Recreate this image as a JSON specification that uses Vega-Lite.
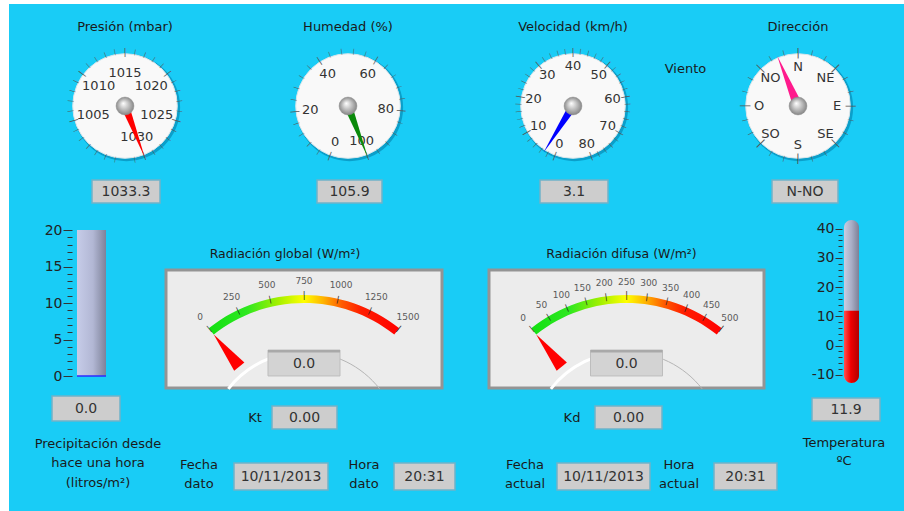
{
"$schema": "https://vega.github.io/schema/vega-lite/v6.json",
"background": "#19ccf6",
"padding": 0,
"autosize": {"type": "pad"},
"data": {"values": [{"presion": 1033.3, "humedad": 105.9, "velocidad": 3.1, "direccion": 337.5, "direccionTxt": "N-NO", "precipitacion": 0.0, "radGlobal": 0.0, "kt": 0.0, "radDifusa": 0.0, "kd": 0.0, "temperatura": 11.9, "fechaDato": "10/11/2013", "horaDato": "20:31", "fechaActual": "10/11/2013", "horaActual": "20:31"}]},
"datasets": {
"pTicks": [{"v":999},{"v":1000},{"v":1001},{"v":1002},{"v":1003},{"v":1004},{"v":1006},{"v":1007},{"v":1008},{"v":1009},{"v":1011},{"v":1012},{"v":1013},{"v":1014},{"v":1016},{"v":1017},{"v":1018},{"v":1019},{"v":1021},{"v":1022},{"v":1023},{"v":1024},{"v":1026},{"v":1027},{"v":1028},{"v":1029},{"v":1031}],
"pLab": [{"v":1005},{"v":1010},{"v":1015},{"v":1020},{"v":1025},{"v":1030}],
"hTicks": [{"v":4},{"v":8},{"v":12},{"v":16},{"v":24},{"v":28},{"v":32},{"v":36},{"v":44},{"v":48},{"v":52},{"v":56},{"v":64},{"v":68},{"v":72},{"v":76},{"v":84},{"v":88},{"v":92},{"v":96}],
"hLab": [{"v":0},{"v":20},{"v":40},{"v":60},{"v":80},{"v":100}],
"vTicks": [{"v":2},{"v":4},{"v":6},{"v":8},{"v":12},{"v":14},{"v":16},{"v":18},{"v":22},{"v":24},{"v":26},{"v":28},{"v":32},{"v":34},{"v":36},{"v":38},{"v":42},{"v":44},{"v":46},{"v":48},{"v":52},{"v":54},{"v":56},{"v":58},{"v":62},{"v":64},{"v":66},{"v":68},{"v":72},{"v":74},{"v":76},{"v":78}],
"vLab": [{"v":0},{"v":10},{"v":20},{"v":30},{"v":40},{"v":50},{"v":60},{"v":70},{"v":80}],
"dTicks": [{"v":15},{"v":30},{"v":60},{"v":75},{"v":105},{"v":120},{"v":150},{"v":165},{"v":195},{"v":210},{"v":240},{"v":255},{"v":285},{"v":300},{"v":330},{"v":345}],
"dLab": [{"v":0,"t":"N"},{"v":45,"t":"NE"},{"v":90,"t":"E"},{"v":135,"t":"SE"},{"v":180,"t":"S"},{"v":225,"t":"SO"},{"v":270,"t":"O"},{"v":315,"t":"NO"}],
"gLab": [{"v":0},{"v":250},{"v":500},{"v":750},{"v":1000},{"v":1250},{"v":1500}],
"fLab": [{"v":0},{"v":50},{"v":100},{"v":150},{"v":200},{"v":250},{"v":300},{"v":350},{"v":400},{"v":450},{"v":500}]
},
"spacing": 0,
"hconcat": [
{"width": 9, "height": 511, "view": {"fill": "#ffffff", "stroke": null}, "mark": {"type": "point", "opacity": 0, "size": 0}},
{"spacing": 17, "vconcat": [
{"width": 895, "height": 4, "view": {"fill": "#ffffff", "stroke": null}, "mark": {"type": "point", "opacity": 0, "size": 0}},
{"spacing": 0, "vconcat": [
{"spacing": 0, "hconcat": [
{"width": 54, "height": 1, "mark": {"type": "point", "opacity": 0, "size": 0}},
{"spacing": 11, "vconcat": [
{"width": 124, "height": 124, "title": "Presión (mbar)",
 "resolve": {"scale": {"theta": "independent", "angle": "independent"}},
 "layer": [
  {"mark": {"type": "point", "shape": "circle", "size": 11499, "filled": true, "opacity": 1, "color": "#0b9fca", "xOffset": 1.5, "yOffset": 1.5}},
  {"mark": {"type": "point", "shape": "circle", "size": 10936, "filled": true, "opacity": 1, "fill": "#f9f9f9", "stroke": "#d5e6ec", "strokeWidth": 1}},
  {"data": {"name": "pTicks"}, "mark": {"type": "text", "radius": 55, "fontSize": 6, "color": "#555555"}, "encoding": {"text": {"value": "|"}, "theta": {"field": "v", "type": "quantitative", "scale": {"domain": [1005, 1030], "range": [-1.85, 2.775], "nice": false, "zero": false}}, "angle": {"field": "v", "type": "quantitative", "scale": {"domain": [1005, 1030], "range": [-106, 159], "nice": false, "zero": false}}}},
  {"data": {"name": "pLab"}, "mark": {"type": "text", "radius": 54, "fontSize": 9, "color": "#555555"}, "encoding": {"text": {"value": "|"}, "theta": {"field": "v", "type": "quantitative", "scale": {"domain": [1005, 1030], "range": [-1.85, 2.775], "nice": false, "zero": false}}, "angle": {"field": "v", "type": "quantitative", "scale": {"domain": [1005, 1030], "range": [-106, 159], "nice": false, "zero": false}}}},
  {"data": {"name": "pLab"}, "mark": {"type": "text", "radius": 33, "fontSize": 13, "color": "#333333"}, "encoding": {"text": {"field": "v", "type": "quantitative", "format": "d"}, "theta": {"field": "v", "type": "quantitative", "scale": {"domain": [1005, 1030], "range": [-1.85, 2.775], "nice": false, "zero": false}}}},
  {"mark": {"type": "point", "shape": "M0,-1 L0.075,0 L0,0.12 L-0.075,0 Z", "size": 12100, "filled": true, "opacity": 1, "color": "#ff0000"}, "encoding": {"angle": {"field": "presion", "type": "quantitative", "scale": {"domain": [1005, 1030], "range": [-106, 159], "clamp": true, "nice": false, "zero": false}}}},
  {"mark": {"type": "point", "shape": "circle", "size": 320, "filled": true, "opacity": 1, "fill": {"gradient": "radial", "x1": 0.4, "y1": 0.35, "r1": 0, "x2": 0.5, "y2": 0.5, "r2": 0.55, "stops": [{"offset": 0, "color": "#ffffff"}, {"offset": 1, "color": "#7d7d7d"}]}, "stroke": "#8c8c8c", "strokeWidth": 0.5}}
 ]},
{"spacing": 0, "bounds": "flush", "hconcat": [
 {"width": 29, "height": 1, "mark": {"type": "point", "opacity": 0, "size": 0}},
 {"width": 68, "height": 23, "view": {"fill": "#cdcdcd", "stroke": "#6fb3c9", "strokeWidth": 1.5}, "mark": {"type": "text", "fontSize": 14, "color": "#333333"}, "encoding": {"text": {"field": "presion", "type": "quantitative", "format": ".1f"}}},
 {"width": 27, "height": 1, "mark": {"type": "point", "opacity": 0, "size": 0}}
]}
]},
{"width": 99, "height": 1, "mark": {"type": "point", "opacity": 0, "size": 0}},
{"spacing": 11, "vconcat": [
{"width": 124, "height": 124, "title": "Humedad (%)",
 "resolve": {"scale": {"theta": "independent", "angle": "independent"}},
 "layer": [
  {"mark": {"type": "point", "shape": "circle", "size": 11499, "filled": true, "opacity": 1, "color": "#0b9fca", "xOffset": 1.5, "yOffset": 1.5}},
  {"mark": {"type": "point", "shape": "circle", "size": 10936, "filled": true, "opacity": 1, "fill": "#f9f9f9", "stroke": "#d5e6ec", "strokeWidth": 1}},
  {"data": {"name": "hTicks"}, "mark": {"type": "text", "radius": 55, "fontSize": 6, "color": "#555555"}, "encoding": {"text": {"value": "|"}, "theta": {"field": "v", "type": "quantitative", "scale": {"domain": [0, 100], "range": [-2.793, 2.775], "nice": false, "zero": false}}, "angle": {"field": "v", "type": "quantitative", "scale": {"domain": [0, 100], "range": [-160, 159], "nice": false, "zero": false}}}},
  {"data": {"name": "hLab"}, "mark": {"type": "text", "radius": 54, "fontSize": 9, "color": "#555555"}, "encoding": {"text": {"value": "|"}, "theta": {"field": "v", "type": "quantitative", "scale": {"domain": [0, 100], "range": [-2.793, 2.775], "nice": false, "zero": false}}, "angle": {"field": "v", "type": "quantitative", "scale": {"domain": [0, 100], "range": [-160, 159], "nice": false, "zero": false}}}},
  {"data": {"name": "hLab"}, "mark": {"type": "text", "radius": 38, "fontSize": 13, "color": "#333333"}, "encoding": {"text": {"field": "v", "type": "quantitative", "format": "d"}, "theta": {"field": "v", "type": "quantitative", "scale": {"domain": [0, 100], "range": [-2.793, 2.775], "nice": false, "zero": false}}}},
  {"mark": {"type": "point", "shape": "M0,-1 L0.075,0 L0,0.12 L-0.075,0 Z", "size": 12100, "filled": true, "opacity": 1, "color": "#0a8a0a"}, "encoding": {"angle": {"field": "humedad", "type": "quantitative", "scale": {"domain": [0, 100], "range": [-160, 159], "clamp": true, "nice": false, "zero": false}}}},
  {"mark": {"type": "point", "shape": "circle", "size": 320, "filled": true, "opacity": 1, "fill": {"gradient": "radial", "x1": 0.4, "y1": 0.35, "r1": 0, "x2": 0.5, "y2": 0.5, "r2": 0.55, "stops": [{"offset": 0, "color": "#ffffff"}, {"offset": 1, "color": "#7d7d7d"}]}, "stroke": "#8c8c8c", "strokeWidth": 0.5}}
 ]},
{"spacing": 0, "bounds": "flush", "hconcat": [
 {"width": 31, "height": 1, "mark": {"type": "point", "opacity": 0, "size": 0}},
 {"width": 65, "height": 23, "view": {"fill": "#cdcdcd", "stroke": "#6fb3c9", "strokeWidth": 1.5}, "mark": {"type": "text", "fontSize": 14, "color": "#333333"}, "encoding": {"text": {"field": "humedad", "type": "quantitative", "format": ".1f"}}},
 {"width": 28, "height": 1, "mark": {"type": "point", "opacity": 0, "size": 0}}
]}
]},
{"width": 101, "height": 1, "mark": {"type": "point", "opacity": 0, "size": 0}},
{"spacing": 11, "vconcat": [
{"width": 124, "height": 124, "title": "Velocidad (km/h)",
 "resolve": {"scale": {"theta": "independent", "angle": "independent"}},
 "layer": [
  {"mark": {"type": "point", "shape": "circle", "size": 11499, "filled": true, "opacity": 1, "color": "#0b9fca", "xOffset": 1.5, "yOffset": 1.5}},
  {"mark": {"type": "point", "shape": "circle", "size": 10936, "filled": true, "opacity": 1, "fill": "#f9f9f9", "stroke": "#d5e6ec", "strokeWidth": 1}},
  {"data": {"name": "vTicks"}, "mark": {"type": "text", "radius": 55, "fontSize": 6, "color": "#555555"}, "encoding": {"text": {"value": "|"}, "theta": {"field": "v", "type": "quantitative", "scale": {"domain": [0, 80], "range": [-2.793, 2.793], "nice": false, "zero": false}}, "angle": {"field": "v", "type": "quantitative", "scale": {"domain": [0, 80], "range": [-160, 160], "nice": false, "zero": false}}}},
  {"data": {"name": "vLab"}, "mark": {"type": "text", "radius": 54, "fontSize": 9, "color": "#555555"}, "encoding": {"text": {"value": "|"}, "theta": {"field": "v", "type": "quantitative", "scale": {"domain": [0, 80], "range": [-2.793, 2.793], "nice": false, "zero": false}}, "angle": {"field": "v", "type": "quantitative", "scale": {"domain": [0, 80], "range": [-160, 160], "nice": false, "zero": false}}}},
  {"data": {"name": "vLab"}, "mark": {"type": "text", "radius": 40, "fontSize": 13, "color": "#333333"}, "encoding": {"text": {"field": "v", "type": "quantitative", "format": "d"}, "theta": {"field": "v", "type": "quantitative", "scale": {"domain": [0, 80], "range": [-2.793, 2.793], "nice": false, "zero": false}}}},
  {"mark": {"type": "point", "shape": "M0,-1 L0.075,0 L0,0.12 L-0.075,0 Z", "size": 12100, "filled": true, "opacity": 1, "color": "#0000ff"}, "encoding": {"angle": {"field": "velocidad", "type": "quantitative", "scale": {"domain": [0, 80], "range": [-160, 160], "clamp": true, "nice": false, "zero": false}}}},
  {"mark": {"type": "point", "shape": "circle", "size": 320, "filled": true, "opacity": 1, "fill": {"gradient": "radial", "x1": 0.4, "y1": 0.35, "r1": 0, "x2": 0.5, "y2": 0.5, "r2": 0.55, "stops": [{"offset": 0, "color": "#ffffff"}, {"offset": 1, "color": "#7d7d7d"}]}, "stroke": "#8c8c8c", "strokeWidth": 0.5}}
 ]},
{"spacing": 0, "bounds": "flush", "hconcat": [
 {"width": 29, "height": 1, "mark": {"type": "point", "opacity": 0, "size": 0}},
 {"width": 68, "height": 23, "view": {"fill": "#cdcdcd", "stroke": "#6fb3c9", "strokeWidth": 1.5}, "mark": {"type": "text", "fontSize": 14, "color": "#333333"}, "encoding": {"text": {"field": "velocidad", "type": "quantitative", "format": ".1f"}}},
 {"width": 27, "height": 1, "mark": {"type": "point", "opacity": 0, "size": 0}}
]}
]},
{"width": 101, "height": 50, "mark": {"type": "text", "fontSize": 13, "color": "#1a1a1a"}, "encoding": {"text": {"value": "Viento"}}},
{"spacing": 11, "vconcat": [
{"width": 124, "height": 124, "title": "Dirección",
 "resolve": {"scale": {"theta": "independent", "angle": "independent"}},
 "layer": [
  {"mark": {"type": "point", "shape": "circle", "size": 11499, "filled": true, "opacity": 1, "color": "#0b9fca", "xOffset": 1.5, "yOffset": 1.5}},
  {"mark": {"type": "point", "shape": "circle", "size": 10936, "filled": true, "opacity": 1, "fill": "#f9f9f9", "stroke": "#d5e6ec", "strokeWidth": 1}},
  {"data": {"name": "dTicks"}, "mark": {"type": "text", "radius": 55, "fontSize": 6, "color": "#555555"}, "encoding": {"text": {"value": "|"}, "theta": {"field": "v", "type": "quantitative", "scale": {"domain": [0, 360], "range": [0, 6.2832], "nice": false, "zero": false}}, "angle": {"field": "v", "type": "quantitative", "scale": {"domain": [0, 360], "range": [0, 360], "nice": false, "zero": false}}}},
  {"data": {"name": "dLab"}, "mark": {"type": "text", "radius": 53, "fontSize": 11, "color": "#555555"}, "encoding": {"text": {"value": "|"}, "theta": {"field": "v", "type": "quantitative", "scale": {"domain": [0, 360], "range": [0, 6.2832], "nice": false, "zero": false}}, "angle": {"field": "v", "type": "quantitative", "scale": {"domain": [0, 360], "range": [0, 360], "nice": false, "zero": false}}}},
  {"data": {"name": "dLab"}, "mark": {"type": "text", "radius": 39, "fontSize": 13, "color": "#333333"}, "encoding": {"text": {"field": "t", "type": "nominal"}, "theta": {"field": "v", "type": "quantitative", "scale": {"domain": [0, 360], "range": [0, 6.2832], "nice": false, "zero": false}}}},
  {"mark": {"type": "point", "shape": "M0,-1 L0.09,0 L0,0.12 L-0.09,0 Z", "size": 11664, "filled": true, "opacity": 1, "color": "#ff1a8c"}, "encoding": {"angle": {"field": "direccion", "type": "quantitative", "scale": {"domain": [0, 360], "range": [0, 360], "nice": false, "zero": false}}}},
  {"mark": {"type": "point", "shape": "circle", "size": 320, "filled": true, "opacity": 1, "fill": {"gradient": "radial", "x1": 0.4, "y1": 0.35, "r1": 0, "x2": 0.5, "y2": 0.5, "r2": 0.55, "stops": [{"offset": 0, "color": "#ffffff"}, {"offset": 1, "color": "#7d7d7d"}]}, "stroke": "#8c8c8c", "strokeWidth": 0.5}}
 ]},
{"spacing": 0, "bounds": "flush", "hconcat": [
 {"width": 36, "height": 1, "mark": {"type": "point", "opacity": 0, "size": 0}},
 {"width": 66, "height": 23, "view": {"fill": "#cdcdcd", "stroke": "#6fb3c9", "strokeWidth": 1.5}, "mark": {"type": "text", "fontSize": 14, "color": "#333333"}, "encoding": {"text": {"field": "direccionTxt", "type": "nominal"}}},
 {"width": 22, "height": 1, "mark": {"type": "point", "opacity": 0, "size": 0}}
]}
]}
]},
{"spacing": 0, "hconcat": [
{"spacing": 0, "vconcat": [
 {"width": 155, "height": 19, "mark": {"type": "point", "opacity": 0, "size": 0}},
 {"spacing": 0, "bounds": "flush", "hconcat": [
  {"width": 68, "height": 1, "mark": {"type": "point", "opacity": 0, "size": 0}},
  {"width": 29, "height": 146,
   "layer": [
    {"mark": {"type": "rect", "fill": {"gradient": "linear", "x1": 0, "y1": 0, "x2": 1, "y2": 0, "stops": [{"offset": 0, "color": "#c6cce8"}, {"offset": 0.55, "color": "#b2b7d4"}, {"offset": 1, "color": "#7e8299"}]}},
     "encoding": {"x": {"datum": 0, "type": "quantitative", "scale": {"domain": [0, 1], "nice": false}, "axis": null}, "x2": {"datum": 1},
      "y": {"datum": 0, "type": "quantitative", "scale": {"domain": [0, 20], "nice": false, "zero": false}, "axis": {"values": [0,1,2,3,4,5,6,7,8,9,10,11,12,13,14,15,16,17,18,19,20], "tickCount": 100, "labelOverlap": false, "tickSize": {"condition": {"test": "datum.value % 5 === 0", "value": 9}, "value": 5}, "labelExpr": "datum.value % 5 === 0 ? '' + datum.value : ''", "offset": 5, "labelPadding": 1, "title": null}}, "y2": {"datum": 20}}},
    {"mark": {"type": "rule", "color": "#2b2bff", "strokeWidth": 1.5}, "encoding": {"x": {"datum": 0, "type": "quantitative", "axis": null}, "x2": {"datum": 1}, "y": {"field": "precipitacion", "type": "quantitative"}}}
   ]},
  {"width": 58, "height": 1, "mark": {"type": "point", "opacity": 0, "size": 0}}
 ]},
 {"width": 1, "height": 12, "mark": {"type": "point", "opacity": 0, "size": 0}},
 {"spacing": 0, "bounds": "flush", "hconcat": [
  {"width": 43, "height": 1, "mark": {"type": "point", "opacity": 0, "size": 0}},
  {"width": 68, "height": 25, "view": {"fill": "#cdcdcd", "stroke": "#6fb3c9", "strokeWidth": 1.5}, "mark": {"type": "text", "fontSize": 14, "color": "#333333"}, "encoding": {"text": {"field": "precipitacion", "type": "quantitative", "format": ".1f"}}},
  {"width": 44, "height": 1, "mark": {"type": "point", "opacity": 0, "size": 0}}
 ]},
 {"spacing": 0, "bounds": "flush", "hconcat": [
  {"width": 23, "height": 1, "mark": {"type": "point", "opacity": 0, "size": 0}},
  {"width": 132, "height": 43, "mark": {"type": "text", "fontSize": 13, "lineHeight": 19.5, "color": "#1a1a1a"}, "encoding": {"text": {"value": ["Precipitación desde", "hace una hora", "(litros/m²)"]}}}
 ]},
 {"width": 1, "height": 50, "mark": {"type": "point", "opacity": 0, "size": 0}}
]},
{"spacing": 0, "vconcat": [
 {"width": 636, "height": 42, "mark": {"type": "point", "opacity": 0, "size": 0}},
 {"spacing": 0, "bounds": "flush", "hconcat": [
  {"width": 276, "height": 118, "title": {"text": "Radiación global (W/m²)", "dx": -19, "fontSize": 12.5},
   "view": {"fill": "#ececec", "stroke": "#949494", "strokeWidth": 3},
   "resolve": {"scale": {"theta": "independent", "angle": "independent"}},
   "layer": [
    {"mark": {"type": "point", "shape": "M-0.6225,-0.7826 A1,1 0 0,1 0.6225,-0.7826 L0.5899,-0.7417 A0.9477,0.9477 0 0,0 -0.5899,-0.7417 Z", "size": 93636, "filled": true, "opacity": 1, "y": 178, "fill": {"gradient": "linear", "x1": 0, "y1": 0, "x2": 1, "y2": 0, "stops": [{"offset": 0, "color": "#12e012"}, {"offset": 0.2, "color": "#2ee820"}, {"offset": 0.36, "color": "#a0f000"}, {"offset": 0.5, "color": "#ffff00"}, {"offset": 0.6, "color": "#ffb400"}, {"offset": 0.7, "color": "#ff5a00"}, {"offset": 0.8, "color": "#ff1e00"}, {"offset": 1, "color": "#ff0000"}]}}},
    {"data": {"name": "gLab"}, "mark": {"type": "text", "radius": 152, "fontSize": 8, "color": "#222222", "y": 178}, "encoding": {"text": {"value": "|"}, "theta": {"field": "v", "type": "quantitative", "scale": {"domain": [0, 1500], "range": [-0.672, 0.672], "nice": false, "zero": false}}, "angle": {"field": "v", "type": "quantitative", "scale": {"domain": [0, 1500], "range": [-38.5, 38.5], "nice": false, "zero": false}}}},
    {"data": {"name": "gLab"}, "mark": {"type": "text", "radius": 167, "fontSize": 9, "color": "#5a5a5a", "y": 178}, "encoding": {"text": {"field": "v", "type": "quantitative", "format": "d"}, "theta": {"field": "v", "type": "quantitative", "scale": {"domain": [0, 1500], "range": [-0.672, 0.672], "nice": false, "zero": false}}}},
    {"mark": {"type": "point", "shape": "M-0.788,-0.616 A1,1 0 0,1 0,-1", "size": 36864, "filled": false, "opacity": 1, "stroke": "#ffffff", "strokeWidth": 3, "y": 178}},
    {"mark": {"type": "point", "shape": "M0,-1 A1,1 0 0,1 0.788,-0.616", "size": 36864, "filled": false, "opacity": 1, "stroke": "#b5b5b5", "strokeWidth": 1, "y": 178}},
    {"mark": {"type": "point", "shape": "M0,-1 L0.045,-0.717 L-0.045,-0.717 Z", "size": 84100, "filled": true, "opacity": 1, "color": "#ff0000", "y": 178}, "encoding": {"angle": {"field": "radGlobal", "type": "quantitative", "scale": {"domain": [0, 1500], "range": [-38.5, 38.5], "clamp": true, "nice": false, "zero": false}}}},
    {"mark": {"type": "point", "shape": "M-1,-0.36 L1,-0.36 L1,0.36 L-1,0.36 Z", "size": 5184, "filled": true, "opacity": 1, "fill": "#d3d3d3", "stroke": "#bdbdbd", "strokeWidth": 1, "y": 93}},
    {"mark": {"type": "point", "shape": "M-1,-0.36 L1,-0.36 L1,-0.29 L-1,-0.29 Z", "size": 5184, "filled": true, "opacity": 1, "fill": "#a9a9a9", "y": 93}},
    {"mark": {"type": "text", "fontSize": 14, "color": "#333333", "y": 94}, "encoding": {"text": {"field": "radGlobal", "type": "quantitative", "format": ".1f"}}}
   ]},
  {"width": 47, "height": 1, "mark": {"type": "point", "opacity": 0, "size": 0}},
  {"width": 275, "height": 118, "title": {"text": "Radiación difusa  (W/m²)", "dx": -5, "fontSize": 12.5},
   "view": {"fill": "#ececec", "stroke": "#949494", "strokeWidth": 3},
   "resolve": {"scale": {"theta": "independent", "angle": "independent"}},
   "layer": [
    {"mark": {"type": "point", "shape": "M-0.6225,-0.7826 A1,1 0 0,1 0.6225,-0.7826 L0.5899,-0.7417 A0.9477,0.9477 0 0,0 -0.5899,-0.7417 Z", "size": 93636, "filled": true, "opacity": 1, "y": 178, "fill": {"gradient": "linear", "x1": 0, "y1": 0, "x2": 1, "y2": 0, "stops": [{"offset": 0, "color": "#12e012"}, {"offset": 0.2, "color": "#2ee820"}, {"offset": 0.36, "color": "#a0f000"}, {"offset": 0.5, "color": "#ffff00"}, {"offset": 0.6, "color": "#ffb400"}, {"offset": 0.7, "color": "#ff5a00"}, {"offset": 0.8, "color": "#ff1e00"}, {"offset": 1, "color": "#ff0000"}]}}},
    {"data": {"name": "fLab"}, "mark": {"type": "text", "radius": 152, "fontSize": 8, "color": "#222222", "y": 178}, "encoding": {"text": {"value": "|"}, "theta": {"field": "v", "type": "quantitative", "scale": {"domain": [0, 500], "range": [-0.672, 0.672], "nice": false, "zero": false}}, "angle": {"field": "v", "type": "quantitative", "scale": {"domain": [0, 500], "range": [-38.5, 38.5], "nice": false, "zero": false}}}},
    {"data": {"name": "fLab"}, "mark": {"type": "text", "radius": 166, "fontSize": 9, "color": "#5a5a5a", "y": 178}, "encoding": {"text": {"field": "v", "type": "quantitative", "format": "d"}, "theta": {"field": "v", "type": "quantitative", "scale": {"domain": [0, 500], "range": [-0.672, 0.672], "nice": false, "zero": false}}}},
    {"mark": {"type": "point", "shape": "M-0.788,-0.616 A1,1 0 0,1 0,-1", "size": 36864, "filled": false, "opacity": 1, "stroke": "#ffffff", "strokeWidth": 3, "y": 178}},
    {"mark": {"type": "point", "shape": "M0,-1 A1,1 0 0,1 0.788,-0.616", "size": 36864, "filled": false, "opacity": 1, "stroke": "#b5b5b5", "strokeWidth": 1, "y": 178}},
    {"mark": {"type": "point", "shape": "M0,-1 L0.045,-0.717 L-0.045,-0.717 Z", "size": 84100, "filled": true, "opacity": 1, "color": "#ff0000", "y": 178}, "encoding": {"angle": {"field": "radDifusa", "type": "quantitative", "scale": {"domain": [0, 500], "range": [-38.5, 38.5], "clamp": true, "nice": false, "zero": false}}}},
    {"mark": {"type": "point", "shape": "M-1,-0.36 L1,-0.36 L1,0.36 L-1,0.36 Z", "size": 5184, "filled": true, "opacity": 1, "fill": "#d3d3d3", "stroke": "#bdbdbd", "strokeWidth": 1, "y": 93}},
    {"mark": {"type": "point", "shape": "M-1,-0.36 L1,-0.36 L1,-0.29 L-1,-0.29 Z", "size": 5184, "filled": true, "opacity": 1, "fill": "#a9a9a9", "y": 93}},
    {"mark": {"type": "text", "fontSize": 14, "color": "#333333", "y": 94}, "encoding": {"text": {"field": "radDifusa", "type": "quantitative", "format": ".1f"}}}
   ]},
  {"width": 38, "height": 1, "mark": {"type": "point", "opacity": 0, "size": 0}}
 ]},
 {"width": 1, "height": 8, "mark": {"type": "point", "opacity": 0, "size": 0}},
 {"spacing": 0, "bounds": "flush", "hconcat": [
  {"width": 76, "height": 1, "mark": {"type": "point", "opacity": 0, "size": 0}},
  {"width": 26, "height": 23, "mark": {"type": "text", "fontSize": 13, "color": "#1a1a1a"}, "encoding": {"text": {"value": "Kt"}}},
  {"width": 4, "height": 1, "mark": {"type": "point", "opacity": 0, "size": 0}},
  {"width": 65, "height": 23, "view": {"fill": "#cdcdcd", "stroke": "#6fb3c9", "strokeWidth": 1.5}, "mark": {"type": "text", "fontSize": 14, "color": "#333333"}, "encoding": {"text": {"field": "kt", "type": "quantitative", "format": ".2f"}}},
  {"width": 222, "height": 1, "mark": {"type": "point", "opacity": 0, "size": 0}},
  {"width": 26, "height": 23, "mark": {"type": "text", "fontSize": 13, "color": "#1a1a1a"}, "encoding": {"text": {"value": "Kd"}}},
  {"width": 10, "height": 1, "mark": {"type": "point", "opacity": 0, "size": 0}},
  {"width": 67, "height": 23, "view": {"fill": "#cdcdcd", "stroke": "#6fb3c9", "strokeWidth": 1.5}, "mark": {"type": "text", "fontSize": 14, "color": "#333333"}, "encoding": {"text": {"field": "kd", "type": "quantitative", "format": ".2f"}}},
  {"width": 140, "height": 1, "mark": {"type": "point", "opacity": 0, "size": 0}}
 ]},
 {"width": 1, "height": 29, "mark": {"type": "point", "opacity": 0, "size": 0}},
 {"spacing": 0, "bounds": "flush", "hconcat": [
  {"width": 15, "height": 1, "mark": {"type": "point", "opacity": 0, "size": 0}},
  {"width": 36, "height": 4, "mark": {"type": "text", "fontSize": 13, "lineHeight": 19, "color": "#1a1a1a"}, "encoding": {"text": {"value": ["Fecha", "dato"]}}},
  {"width": 17, "height": 1, "mark": {"type": "point", "opacity": 0, "size": 0}},
  {"width": 94, "height": 27, "view": {"fill": "#cdcdcd", "stroke": "#6fb3c9", "strokeWidth": 1.5}, "mark": {"type": "text", "fontSize": 14, "color": "#333333"}, "encoding": {"text": {"field": "fechaDato", "type": "nominal"}}},
  {"width": 19, "height": 1, "mark": {"type": "point", "opacity": 0, "size": 0}},
  {"width": 34, "height": 4, "mark": {"type": "text", "fontSize": 13, "lineHeight": 19, "color": "#1a1a1a"}, "encoding": {"text": {"value": ["Hora", "dato"]}}},
  {"width": 13, "height": 1, "mark": {"type": "point", "opacity": 0, "size": 0}},
  {"width": 61, "height": 27, "view": {"fill": "#cdcdcd", "stroke": "#6fb3c9", "strokeWidth": 1.5}, "mark": {"type": "text", "fontSize": 14, "color": "#333333"}, "encoding": {"text": {"field": "horaDato", "type": "nominal"}}},
  {"width": 47, "height": 1, "mark": {"type": "point", "opacity": 0, "size": 0}},
  {"width": 46, "height": 4, "mark": {"type": "text", "fontSize": 13, "lineHeight": 19, "color": "#1a1a1a"}, "encoding": {"text": {"value": ["Fecha", "actual"]}}},
  {"width": 9, "height": 1, "mark": {"type": "point", "opacity": 0, "size": 0}},
  {"width": 93, "height": 27, "view": {"fill": "#cdcdcd", "stroke": "#6fb3c9", "strokeWidth": 1.5}, "mark": {"type": "text", "fontSize": 14, "color": "#333333"}, "encoding": {"text": {"field": "fechaActual", "type": "nominal"}}},
  {"width": 8, "height": 1, "mark": {"type": "point", "opacity": 0, "size": 0}},
  {"width": 42, "height": 4, "mark": {"type": "text", "fontSize": 13, "lineHeight": 19, "color": "#1a1a1a"}, "encoding": {"text": {"value": ["Hora", "actual"]}}},
  {"width": 14, "height": 1, "mark": {"type": "point", "opacity": 0, "size": 0}},
  {"width": 63, "height": 27, "view": {"fill": "#cdcdcd", "stroke": "#6fb3c9", "strokeWidth": 1.5}, "mark": {"type": "text", "fontSize": 14, "color": "#333333"}, "encoding": {"text": {"field": "horaActual", "type": "nominal"}}},
  {"width": 25, "height": 1, "mark": {"type": "point", "opacity": 0, "size": 0}}
 ]}
]},
{"spacing": 0, "vconcat": [
 {"width": 104, "height": 16, "mark": {"type": "point", "opacity": 0, "size": 0}},
 {"spacing": 0, "bounds": "flush", "hconcat": [
  {"width": 42, "height": 1, "mark": {"type": "point", "opacity": 0, "size": 0}},
  {"width": 15, "height": 163,
   "layer": [
    {"mark": {"type": "rect", "cornerRadius": 7.5, "fill": {"gradient": "linear", "x1": 0, "y1": 0, "x2": 1, "y2": 0, "stops": [{"offset": 0, "color": "#c8cde2"}, {"offset": 0.5, "color": "#a9aec6"}, {"offset": 1, "color": "#7c8096"}]}},
     "encoding": {"x": {"datum": 0, "type": "quantitative", "scale": {"domain": [0, 1], "nice": false}, "axis": null}, "x2": {"datum": 1},
      "y": {"datum": -12.8, "type": "quantitative", "scale": {"domain": [-12.8, 43], "nice": false, "zero": false}, "axis": {"values": [-10,-8,-6,-4,-2,0,2,4,6,8,10,12,14,16,18,20,22,24,26,28,30,32,34,36,38,40], "tickCount": 100, "labelOverlap": false, "tickSize": {"condition": {"test": "datum.value % 10 === 0", "value": 7}, "value": 4}, "labelExpr": "datum.value % 10 === 0 ? '' + datum.value : ''", "offset": 2, "labelPadding": 1, "title": null}}, "y2": {"datum": 43}}},
    {"mark": {"type": "rect", "cornerRadiusBottomLeft": 7.5, "cornerRadiusBottomRight": 7.5, "fill": {"gradient": "linear", "x1": 0, "y1": 0, "x2": 1, "y2": 0, "stops": [{"offset": 0, "color": "#ff5050"}, {"offset": 0.45, "color": "#f00000"}, {"offset": 1, "color": "#b00000"}]}},
     "encoding": {"x": {"datum": 0, "type": "quantitative", "axis": null}, "x2": {"datum": 1}, "y": {"field": "temperatura", "type": "quantitative"}, "y2": {"datum": -12.8}}}
   ]},
  {"width": 47, "height": 1, "mark": {"type": "point", "opacity": 0, "size": 0}}
 ]},
 {"width": 1, "height": 14, "mark": {"type": "point", "opacity": 0, "size": 0}},
 {"spacing": 0, "bounds": "flush", "hconcat": [
  {"width": 10, "height": 1, "mark": {"type": "point", "opacity": 0, "size": 0}},
  {"width": 68, "height": 23, "view": {"fill": "#cdcdcd", "stroke": "#6fb3c9", "strokeWidth": 1.5}, "mark": {"type": "text", "fontSize": 14, "color": "#333333"}, "encoding": {"text": {"field": "temperatura", "type": "quantitative", "format": ".1f"}}},
  {"width": 26, "height": 1, "mark": {"type": "point", "opacity": 0, "size": 0}}
 ]},
 {"spacing": 0, "bounds": "flush", "hconcat": [
  {"width": 84, "height": 42, "mark": {"type": "text", "fontSize": 13, "lineHeight": 18, "color": "#1a1a1a"}, "encoding": {"text": {"value": ["Temperatura", "ºC"]}}}
 ]}
]}
]}
]}
]}
],
"config": {
 "view": {"stroke": null},
 "concat": {"spacing": 0},
 "title": {"font": "DejaVu Sans", "fontSize": 13, "fontWeight": "normal", "color": "#1a1a1a", "offset": 10},
 "text": {"font": "DejaVu Sans"},
 "axis": {"labelFont": "DejaVu Sans", "labelFontSize": 14, "labelColor": "#222222", "tickColor": "#333333", "domain": false, "grid": false}
}
}
